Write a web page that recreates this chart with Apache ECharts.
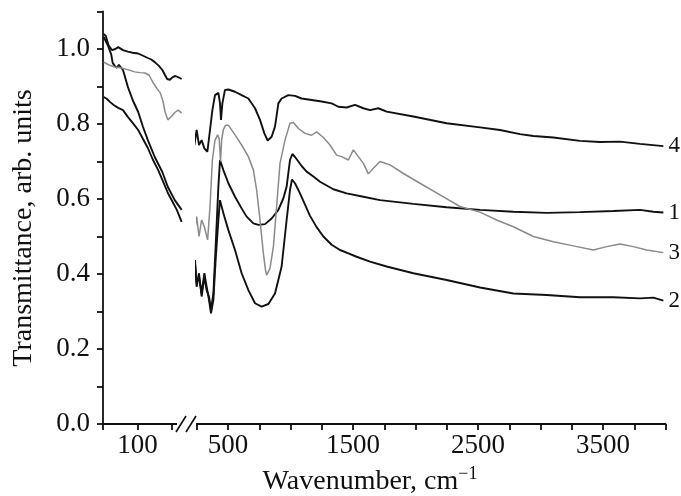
<!DOCTYPE html>
<html>
<head>
    <meta charset="utf-8">
    <title>Transmittance spectra</title>
    <script src="https://cdn.jsdelivr.net/npm/echarts@6/dist/echarts.min.js"></script>
</head>
<body style="margin:0;background:#fff;">
<div id="main" style="width: 681px;height:496px;"></div>
<script type="text/javascript">
    // left part of the broken axis (50..165 cm-1), [wavenumber, transmittance]
    var left1 = [[51,1.032],[57,1.01],[62,0.985],[64,0.963],[67,0.955],[70,0.95],[73,0.958],[75,0.963],[79,0.944],[86,0.899],[93,0.864],[101,0.832],[108,0.792],[115,0.757],[125,0.712],[136,0.672],[144,0.632],[154,0.597],[164,0.571]];
    var left2 = [[51,0.872],[55,0.868],[60,0.859],[66,0.85],[72,0.843],[79,0.837],[86,0.819],[93,0.803],[101,0.784],[108,0.76],[115,0.736],[122,0.706],[130,0.677],[137,0.647],[144,0.616],[151,0.592],[157,0.571],[164,0.539]];
    var left3 = [[51,0.965],[58,0.958],[67,0.952],[75,0.95],[82,0.947],[89,0.943],[96,0.939],[104,0.937],[111,0.936],[117,0.93],[122,0.912],[128,0.895],[133,0.883],[137,0.86],[140,0.832],[144,0.811],[148,0.818],[151,0.824],[155,0.832],[159,0.837],[164,0.829]];
    var left4 = [[51,1.04],[54,1.035],[58,1.01],[63,0.997],[68,1.0],[72,1.005],[79,0.997],[86,0.993],[93,0.99],[101,0.988],[108,0.982],[115,0.976],[120,0.972],[125,0.965],[131,0.955],[136,0.944],[140,0.93],[143,0.92],[147,0.918],[151,0.925],[155,0.928],[160,0.924],[164,0.92]];

    // right part (250..4000 cm-1)
    var right1 = [[215,0.455],[223,0.384],[236,0.428],[249,0.366],[268,0.402],[289,0.34],[311,0.393],[329,0.357],[348,0.34],[364,0.304],[383,0.348],[401,0.473],[423,0.633],[436,0.704],[463,0.677],[503,0.642],[556,0.606],[609,0.575],[649,0.553],[703,0.535],[743,0.531],[796,0.533],[849,0.548],[903,0.571],[943,0.602],[969,0.633],[996,0.704],[1015,0.72],[1036,0.712],[1063,0.7],[1089,0.688],[1129,0.673],[1183,0.66],[1236,0.646],[1343,0.626],[1449,0.615],[1583,0.606],[1716,0.597],[1983,0.587],[2249,0.578],[2516,0.571],[2783,0.566],[3049,0.563],[3316,0.565],[3583,0.568],[3796,0.571],[3903,0.566],[3983,0.564]];
    var right2 = [[215,0.464],[223,0.402],[236,0.437],[249,0.375],[268,0.393],[289,0.348],[311,0.402],[329,0.366],[348,0.331],[364,0.295],[383,0.331],[401,0.437],[423,0.544],[436,0.597],[463,0.562],[503,0.517],[556,0.464],[609,0.402],[663,0.357],[716,0.322],[769,0.313],[823,0.32],[876,0.348],[929,0.42],[969,0.544],[996,0.624],[1012,0.652],[1036,0.642],[1076,0.615],[1116,0.585],[1156,0.555],[1209,0.525],[1263,0.5],[1329,0.478],[1396,0.464],[1463,0.455],[1529,0.446],[1636,0.433],[1769,0.42],[1983,0.402],[2249,0.384],[2516,0.364],[2783,0.348],[3049,0.344],[3316,0.338],[3583,0.338],[3796,0.335],[3903,0.337],[3983,0.329]];
    var right3 = [[215,0.571],[231,0.508],[249,0.553],[268,0.5],[289,0.544],[311,0.526],[337,0.491],[356,0.58],[375,0.704],[396,0.757],[417,0.771],[430,0.76],[440,0.7],[450,0.76],[463,0.785],[481,0.797],[503,0.797],[556,0.771],[609,0.744],[663,0.713],[703,0.677],[729,0.624],[756,0.544],[783,0.455],[800,0.41],[809,0.397],[820,0.395],[836,0.415],[863,0.473],[889,0.58],[916,0.695],[956,0.757],[996,0.802],[1023,0.804],[1063,0.788],[1116,0.775],[1169,0.77],[1209,0.779],[1263,0.764],[1316,0.744],[1369,0.717],[1409,0.713],[1463,0.704],[1503,0.731],[1543,0.713],[1583,0.695],[1623,0.667],[1663,0.682],[1716,0.7],[1796,0.691],[1903,0.668],[2036,0.642],[2196,0.611],[2356,0.58],[2516,0.565],[2649,0.544],[2783,0.526],[2943,0.5],[3103,0.486],[3263,0.475],[3423,0.464],[3529,0.473],[3636,0.48],[3743,0.473],[3849,0.464],[3983,0.457]];
    var right4 = [[215,0.784],[231,0.744],[249,0.784],[268,0.744],[289,0.757],[311,0.735],[335,0.726],[356,0.784],[375,0.837],[396,0.877],[423,0.883],[436,0.855],[444,0.811],[455,0.855],[476,0.891],[503,0.892],[556,0.886],[609,0.877],[663,0.868],[716,0.842],[756,0.811],[791,0.775],[817,0.756],[849,0.766],[876,0.793],[903,0.855],[929,0.868],[983,0.877],[1036,0.875],[1089,0.868],[1169,0.864],[1249,0.86],[1329,0.855],[1383,0.846],[1449,0.844],[1516,0.851],[1583,0.842],[1636,0.837],[1703,0.842],[1769,0.833],[1983,0.82],[2249,0.802],[2516,0.791],[2676,0.784],[2836,0.773],[2943,0.768],[3103,0.764],[3316,0.755],[3476,0.752],[3636,0.753],[3796,0.747],[3983,0.741]];

    var curveNames = ['1', '2', '3', '4'];
    var curveColors = ['#111', '#111', '#8a8a8a', '#111'];
    var leftLabels = [100];
    var rightLabels = [500, 1500, 2500, 3500];

    var font = 'Liberation Serif';
    var axisCol = '#111';

    var myChart = echarts.init(document.getElementById('main'));

    var leftData = [left1, left2, left3, left4];
    var rightData = [right1, right2, right3, right4];
    var series = [];
    for (var i = 0; i < 4; i++) {
        var w = curveColors[i] === '#111' ? 1.9 : 1.5;
        series.push({
            type: 'line', xAxisIndex: 0, yAxisIndex: 0, data: leftData[i],
            symbol: 'none', clip: false,
            lineStyle: {color: curveColors[i], width: w}
        });
        series.push({
            type: 'line', xAxisIndex: 1, yAxisIndex: 1, data: rightData[i],
            symbol: 'none', clip: false,
            lineStyle: {color: curveColors[i], width: w},
            endLabel: {
                show: true, formatter: curveNames[i], distance: 5,
                color: '#111', fontFamily: font, fontSize: 23
            }
        });
    }

    var xTickStyle = {show: true, length: 6, lineStyle: {color: axisCol, width: 1.8}};
    var option = {
        animation: false,
        backgroundColor: '#fff',
        grid: [
            {left: 103, top: 11.5, width: 79.35, height: 412.5},
            {left: 196.75, top: 11.5, width: 468.75, height: 412.5}
        ],
        xAxis: [
            {
                type: 'value', gridIndex: 0, min: 50, max: 165, interval: 50,
                splitLine: {show: false},
                axisLine: {lineStyle: {color: axisCol, width: 1.8}},
                axisTick: xTickStyle,
                axisLabel: {
                    color: '#111', fontFamily: font, fontSize: 27, margin: 8,
                    formatter: function (v) { return leftLabels.indexOf(v) >= 0 ? String(v) : ''; }
                }
            },
            {
                type: 'value', gridIndex: 1, min: 250, max: 4000, interval: 250,
                splitLine: {show: false},
                axisLine: {lineStyle: {color: axisCol, width: 1.8}},
                axisTick: xTickStyle,
                axisLabel: {
                    color: '#111', fontFamily: font, fontSize: 27, margin: 8,
                    formatter: function (v) { return rightLabels.indexOf(v) >= 0 ? String(v) : ''; }
                }
            }
        ],
        yAxis: [
            {
                type: 'value', gridIndex: 0, min: 0, max: 1.1, interval: 0.1,
                splitLine: {show: false},
                axisLine: {show: true, lineStyle: {color: axisCol, width: 1.8}},
                axisTick: {show: true, length: 6, lineStyle: {color: axisCol, width: 1.8}},
                axisLabel: {
                    color: '#111', fontFamily: font, fontSize: 27, margin: 13,
                    formatter: function (v) {
                        var k = Math.round(v * 10);
                        return (k % 2 === 0 && k <= 10) ? (k / 10).toFixed(1) : '';
                    }
                }
            },
            {type: 'value', gridIndex: 1, min: 0, max: 1.1, show: false}
        ],
        graphic: [
            // axis break
            {type: 'rect', z: 100, shape: {x: 177, y: 417, width: 19, height: 16}, style: {fill: '#fff'}},
            {type: 'line', z: 101, shape: {x1: 176, y1: 432, x2: 186, y2: 416}, style: {stroke: axisCol, lineWidth: 1.6}},
            {type: 'line', z: 101, shape: {x1: 186, y1: 432, x2: 196, y2: 416}, style: {stroke: axisCol, lineWidth: 1.6}},
            {
                type: 'text', z: 101, x: 370, y: 482,
                style: {
                    text: 'Wavenumber, cm{sup|\u22121}',
                    fontFamily: font, fontSize: 28, fill: '#111',
                    textAlign: 'center', textVerticalAlign: 'middle',
                    rich: {sup: {fontFamily: font, fontSize: 18, fill: '#111', padding: [0, 0, 15, 0]}}
                }
            },
            {
                type: 'text', z: 101, x: 24, y: 228, rotation: Math.PI / 2,
                style: {
                    text: 'Transmittance, arb. units',
                    fontFamily: font, fontSize: 28, fill: '#111',
                    textAlign: 'center', textVerticalAlign: 'middle'
                }
            }
        ],
        series: series
    };

    myChart.setOption(option);
</script>
</body>
</html>
